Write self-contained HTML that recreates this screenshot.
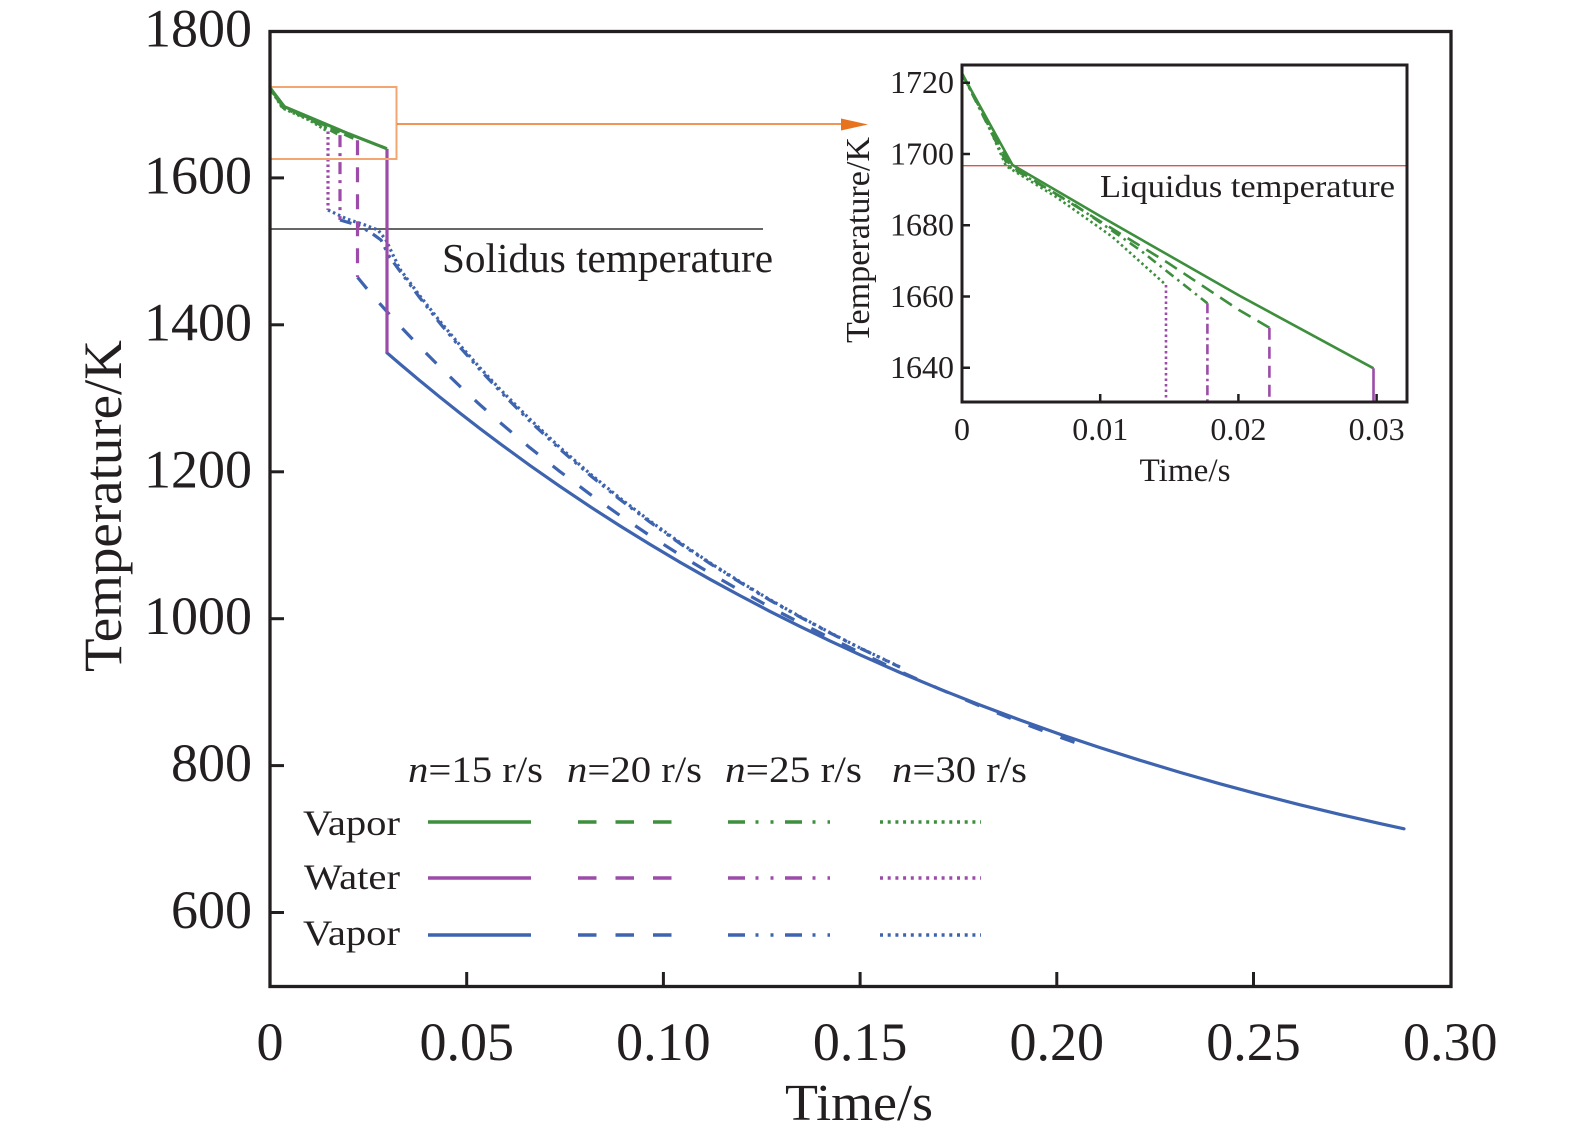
<!DOCTYPE html>
<html>
<head>
<meta charset="utf-8">
<style>
  html,body{margin:0;padding:0;background:#fff;}
  svg{display:block;}
  text{font-family:"Liberation Serif","Times New Roman",serif;fill:#231F20;}
</style>
</head>
<body>
<svg width="1575" height="1142" viewBox="0 0 1575 1142" xmlns="http://www.w3.org/2000/svg">
  <rect x="0" y="0" width="1575" height="1142" fill="#fff"/>

  <!-- ===== MAIN PLOT ===== -->
  <!-- solidus line -->
  <line x1="270" y1="229" x2="763" y2="229" stroke="#333" stroke-width="1.5"/>
  <text x="442" y="272" font-size="41" textLength="331" lengthAdjust="spacingAndGlyphs">Solidus temperature</text>

  <!-- blue curves -->
  <g fill="none" stroke="#3E64B0" stroke-width="3.2" stroke-linejoin="round">
    <path d="M387,352.8 L400,364 L420,380.8 L440,397.2 L460,413.1 L480,428.6 L500,443.6 L530,465.5 L560,486.4 L590,506.6 L620,525.9 L650,544.4 L680,562.2 L710,579.3 L740,595.6 L770,611.4 L800,626.4 L830,640.9 L860,654.8 L900,672.5 L940,689.2 L980,705 L1020,720 L1060,734.2 L1100,747.6 L1140,760.3 L1180,772.4 L1220,783.8 L1260,794.6 L1300,804.8 L1340,814.4 L1380,823.6 L1404,828.8" stroke-linecap="round"/>
    <path d="M357.5,277.2 L370,292.5 L387,311.7 L400,326 L420,347 L440,367.1 L460,386.4 L480,404.8 L500,422.5 L530,447.8 L560,471.6 L590,494.2 L620,515.5 L650,535.7 L680,554.9 L710,573.2 L740,590.4 L770,607.1 L800,622.8 L830,637.9 L860,652.5 L900,671.4 L940,689.2 L980,706 L1020,722.1 L1060,737.2 L1085,746.2" stroke-dasharray="15 19"/>
    <path d="M340,220 L357,225 L370,232 L381,240 L389,256 L400,271.2 L420,298 L440,323.3 L460,347.2 L480,369.8 L500,391.2 L530,421.3 L560,449.2 L590,475.2 L620,499.5 L650,522.1 L680,543.5 L710,563.5 L740,582.3 L770,600.2 L800,617 L830,632.9 L860,648.1 L900,667.2" stroke-dasharray="12 6 3 6 3 6"/>
    <path d="M328,210 L347,219 L365,225 L378,230 L386,240 L393,255 L400,269.2 L420,296 L440,321.3 L460,345.2 L480,367.8 L500,389.2 L530,419.3 L560,447.5 L590,473.7 L620,498.2 L650,521 L680,542.6 L710,562.8 L740,581.7 L770,599.7 L800,616.6 L830,632.6 L860,647.9 L900,667" stroke-dasharray="2.5 3"/>
  </g>

  <!-- purple verticals -->
  <g fill="none" stroke="#9C4BA8" stroke-width="3.2">
    <line x1="387" y1="148.7" x2="387" y2="352.8"/>
    <line x1="357.5" y1="140.2" x2="357.5" y2="277" stroke-dasharray="15 12"/>
    <line x1="340" y1="135.1" x2="340" y2="220" stroke-dasharray="12 6 3 6"/>
    <line x1="328" y1="131.5" x2="328" y2="210" stroke-dasharray="2.5 3"/>
  </g>

  <!-- green curves -->
  <g fill="none" stroke="#3D8F3D" stroke-width="3.2" stroke-linejoin="round">
    <path d="M270,87.9 L284.4,106.7 L309.4,117.2 L348.7,133.8 L386.9,148.7"/>
    <path d="M270,87.9 L283.5,107 L309.4,118 L357.5,140.2" stroke-dasharray="10 5"/>
    <path d="M270,87.9 L283,107.5 L309.4,119 L339.9,135.1" stroke-dasharray="8 4 3 4"/>
    <path d="M270,87.9 L282.5,108 L309.4,120 L328.1,131.5" stroke-dasharray="2.5 2.5"/>
  </g>

  <!-- orange zoom box and arrow -->
  <rect x="270" y="87" width="126.5" height="72" fill="none" stroke="#F4A672" stroke-width="2"/>
  <line x1="397" y1="124" x2="845" y2="124" stroke="#E8731F" stroke-width="1.6"/>
  <polygon points="841,118.5 868,124.5 841,130.5" fill="#E8731F"/>

  <!-- main frame -->
  <rect x="270" y="31.5" width="1181" height="955" fill="none" stroke="#231F20" stroke-width="3.3"/>
  <!-- y ticks -->
  <g stroke="#231F20" stroke-width="3">
    <line x1="270" y1="177.9" x2="284" y2="177.9"/>
    <line x1="270" y1="324.8" x2="284" y2="324.8"/>
    <line x1="270" y1="471.8" x2="284" y2="471.8"/>
    <line x1="270" y1="618.7" x2="284" y2="618.7"/>
    <line x1="270" y1="765.6" x2="284" y2="765.6"/>
    <line x1="270" y1="912.5" x2="284" y2="912.5"/>
    <!-- x ticks -->
    <line x1="466.7" y1="986" x2="466.7" y2="972"/>
    <line x1="663.4" y1="986" x2="663.4" y2="972"/>
    <line x1="860.1" y1="986" x2="860.1" y2="972"/>
    <line x1="1056.8" y1="986" x2="1056.8" y2="972"/>
    <line x1="1253.5" y1="986" x2="1253.5" y2="972"/>
  </g>

  <!-- y tick labels -->
  <g font-size="54" text-anchor="end">
    <text x="252" y="46.5">1800</text>
    <text x="252" y="193.4">1600</text>
    <text x="252" y="340.3">1400</text>
    <text x="252" y="487.3">1200</text>
    <text x="252" y="634.2">1000</text>
    <text x="252" y="781.1">800</text>
    <text x="252" y="928">600</text>
  </g>
  <!-- x tick labels -->
  <g font-size="54" text-anchor="middle">
    <text x="270" y="1060">0</text>
    <text x="466.7" y="1060">0.05</text>
    <text x="663.4" y="1060">0.10</text>
    <text x="860.1" y="1060">0.15</text>
    <text x="1056.8" y="1060">0.20</text>
    <text x="1253.5" y="1060">0.25</text>
    <text x="1450.2" y="1060">0.30</text>
  </g>
  <text x="859" y="1120" font-size="52" text-anchor="middle" textLength="148" lengthAdjust="spacingAndGlyphs">Time/s</text>
  <text transform="translate(121,506) rotate(-90)" font-size="54" text-anchor="middle" textLength="332" lengthAdjust="spacingAndGlyphs">Temperature/K</text>

  <!-- ===== LEGEND ===== -->
  <g font-size="37">
    <text x="408" y="782" textLength="135" lengthAdjust="spacingAndGlyphs"><tspan font-style="italic">n</tspan>=15 r/s</text>
    <text x="567" y="782" textLength="135" lengthAdjust="spacingAndGlyphs"><tspan font-style="italic">n</tspan>=20 r/s</text>
    <text x="725" y="782" textLength="137" lengthAdjust="spacingAndGlyphs"><tspan font-style="italic">n</tspan>=25 r/s</text>
    <text x="892" y="782" textLength="135" lengthAdjust="spacingAndGlyphs"><tspan font-style="italic">n</tspan>=30 r/s</text>
  </g>
  <g font-size="36">
    <text x="303" y="835" textLength="97" lengthAdjust="spacingAndGlyphs">Vapor</text>
    <text x="304" y="889" textLength="96" lengthAdjust="spacingAndGlyphs">Water</text>
    <text x="303" y="945" textLength="97" lengthAdjust="spacingAndGlyphs">Vapor</text>
  </g>
  <g fill="none" stroke-width="3.6">
    <g stroke="#3D8F3D">
      <line x1="428" y1="822" x2="531" y2="822"/>
      <line x1="578" y1="822" x2="672" y2="822" stroke-dasharray="18.5 19"/>
      <line x1="728" y1="822" x2="830" y2="822" stroke-dasharray="17 10.5 3 12 3 11.5"/>
      <line x1="880" y1="822" x2="981" y2="822" stroke-dasharray="3 4.7"/>
    </g>
    <g stroke="#9C4BA8">
      <line x1="428" y1="878" x2="531" y2="878"/>
      <line x1="578" y1="878" x2="672" y2="878" stroke-dasharray="18.5 19"/>
      <line x1="728" y1="878" x2="830" y2="878" stroke-dasharray="17 10.5 3 12 3 11.5"/>
      <line x1="880" y1="878" x2="981" y2="878" stroke-dasharray="3 4.7"/>
    </g>
    <g stroke="#3E64B0">
      <line x1="428" y1="935" x2="531" y2="935"/>
      <line x1="578" y1="935" x2="672" y2="935" stroke-dasharray="18.5 19"/>
      <line x1="728" y1="935" x2="830" y2="935" stroke-dasharray="17 10.5 3 12 3 11.5"/>
      <line x1="880" y1="935" x2="981" y2="935" stroke-dasharray="3 4.7"/>
    </g>
  </g>

  <!-- ===== INSET ===== -->
  <defs>
    <clipPath id="ic"><rect x="962" y="65" width="445" height="337"/></clipPath>
  </defs>
  <rect x="962" y="65" width="445" height="337" fill="#fff"/>
  <line x1="962" y1="165.7" x2="1407" y2="165.7" stroke="#D9534F" stroke-width="1.3"/>
  <text x="1100" y="197" font-size="32" textLength="295" lengthAdjust="spacingAndGlyphs">Liquidus temperature</text>

  <g clip-path="url(#ic)" fill="none" stroke-width="2.6" stroke-linejoin="round">
    <g stroke="#3D8F3D">
      <path d="M962,73.5 L1012.5,165 L1100,216 L1240,296 L1373.5,368.3"/>
      <path d="M962,73.5 L1010,165.5 L1100.9,221.7 L1168.6,263.3 L1239,310 L1269.4,327.7" stroke-dasharray="14 8"/>
      <path d="M962,73.5 L1008,166 L1075,205 L1140,250 L1207.4,303.3" stroke-dasharray="10 5 2.5 5"/>
      <path d="M962,73.5 L985,118 L1006,166 L1055.7,196.7 L1112.2,236.7 L1166,285" stroke-dasharray="2.5 3"/>
    </g>
    <g stroke="#9C4BA8">
      <line x1="1373.5" y1="368.3" x2="1373.5" y2="402"/>
      <line x1="1269.4" y1="327.7" x2="1269.4" y2="402" stroke-dasharray="12 7"/>
      <line x1="1207.4" y1="303.3" x2="1207.4" y2="402" stroke-dasharray="10 4 2.5 4"/>
      <line x1="1166" y1="285" x2="1166" y2="402" stroke-dasharray="2.5 3"/>
    </g>
  </g>

  <rect x="962" y="65" width="445" height="337" fill="none" stroke="#231F20" stroke-width="3"/>
  <g stroke="#231F20" stroke-width="2.5">
    <line x1="962" y1="82.75" x2="970" y2="82.75"/>
    <line x1="962" y1="154" x2="970" y2="154"/>
    <line x1="962" y1="225.25" x2="970" y2="225.25"/>
    <line x1="962" y1="296.5" x2="970" y2="296.5"/>
    <line x1="962" y1="367.75" x2="970" y2="367.75"/>
    <line x1="1100.2" y1="402" x2="1100.2" y2="394"/>
    <line x1="1238.4" y1="402" x2="1238.4" y2="394"/>
    <line x1="1376.6" y1="402" x2="1376.6" y2="394"/>
  </g>
  <g font-size="32" text-anchor="end">
    <text x="954" y="93">1720</text>
    <text x="954" y="164.3">1700</text>
    <text x="954" y="235.5">1680</text>
    <text x="954" y="306.8">1660</text>
    <text x="954" y="378">1640</text>
  </g>
  <g font-size="32" text-anchor="middle">
    <text x="962" y="440">0</text>
    <text x="1100.2" y="440">0.01</text>
    <text x="1238.4" y="440">0.02</text>
    <text x="1376.6" y="440">0.03</text>
  </g>
  <text x="1185" y="481" font-size="33" text-anchor="middle" textLength="91" lengthAdjust="spacingAndGlyphs">Time/s</text>
  <text transform="translate(869,240) rotate(-90)" font-size="34" text-anchor="middle" textLength="206" lengthAdjust="spacingAndGlyphs">Temperature/K</text>
</svg>
</body>
</html>
